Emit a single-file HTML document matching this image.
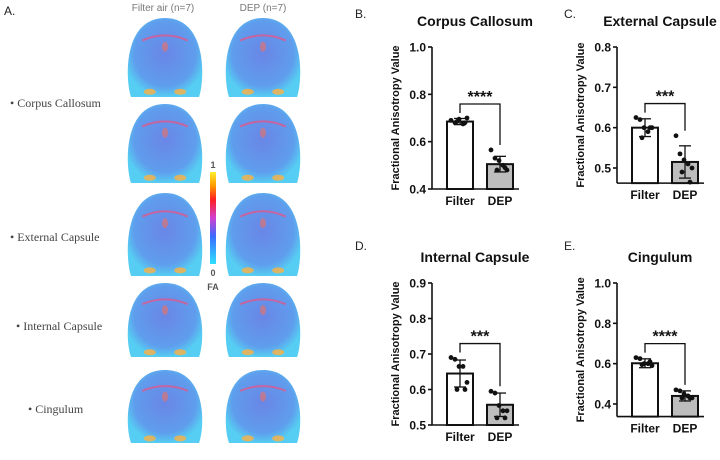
<!DOCTYPE html>
<html><head><meta charset="utf-8"><style>
body{margin:0;width:720px;height:460px;background:#fff;overflow:hidden;font-family:"Liberation Sans",sans-serif}
svg{position:absolute;left:0;top:0}
</style></head><body>
<svg width="720" height="460">
<defs>
<radialGradient id="brain" cx="50%" cy="45%" r="55%"><stop offset="0" stop-color="#6a86e6"/><stop offset="0.75" stop-color="#5f9ded"/><stop offset="1" stop-color="#56cdf2"/></radialGradient>
<linearGradient id="cbar" x1="0" y1="1" x2="0" y2="0"><stop offset="0" stop-color="#2fe0ff"/><stop offset="0.3" stop-color="#3a6cff"/><stop offset="0.5" stop-color="#d040d0"/><stop offset="0.7" stop-color="#ff2020"/><stop offset="0.85" stop-color="#ff9a00"/><stop offset="1" stop-color="#ffee30"/></linearGradient>
</defs>
<text x="4" y="15" font-size="12" fill="#222">A.</text>
<text x="163" y="11" font-size="10" fill="#777" text-anchor="middle">Filter air (n=7)</text>
<text x="263" y="11" font-size="10" fill="#777" text-anchor="middle">DEP (n=7)</text>
<g font-family="Liberation Serif,serif" font-size="12" fill="#444">
<text x="10" y="107">• Corpus Callosum</text>
<text x="10" y="241">• External Capsule</text>
<text x="16" y="330">• Internal Capsule</text>
<text x="28" y="413">• Cingulum</text>
</g>
<g id="brains"></g>
<rect x="210" y="172" width="6" height="92" fill="url(#cbar)"/>
<text x="213" y="168" font-size="9" font-weight="bold" fill="#555" text-anchor="middle">1</text>
<text x="213" y="276" font-size="9" font-weight="bold" fill="#555" text-anchor="middle">0</text>
<text x="213" y="290" font-size="9" font-weight="bold" fill="#555" text-anchor="middle">FA</text>
<text x="355" y="18" font-size="12" fill="#222">B.</text>
<text x="564" y="18" font-size="12" fill="#222">C.</text>
<text x="355" y="250" font-size="12" fill="#222">D.</text>
<text x="564" y="250" font-size="12" fill="#222">E.</text>
<g id="charts"></g>
</svg>
<script>
const NS='http://www.w3.org/2000/svg';
function mk(p,t,a){const e=document.createElementNS(NS,t);for(const k in a)e.setAttribute(k,a[k]);p.appendChild(e);return e;}
const bg=document.getElementById('brains');
const brainRows=[[18,100],[104,186],[193,279],[283,360],[370,446]];
const brainCols=[[127,203],[225,301]];
brainRows.forEach((r,ri)=>brainCols.forEach((c,ci)=>{
  const g=mk(bg,'g',{});
  
  
  const cx=(c[0]+c[1])/2,cy=(r[0]+r[1])/2,rx=(c[1]-c[0])/2,ry=(r[1]-r[0])/2;
  mk(g,'path',{d:`M${cx} ${r[0]} C${c[1]+4} ${r[0]} ${c[1]+2} ${cy+ry*0.5} ${c[1]-4} ${r[1]-3} L${c[0]+4} ${r[1]-3} C${c[0]-2} ${cy+ry*0.5} ${c[0]-4} ${r[0]} ${cx} ${r[0]} Z`,fill:'url(#brain)'});
  mk(g,'path',{d:`M${cx-rx*0.6} ${cy-ry*0.45} Q${cx} ${cy-ry*0.7} ${cx+rx*0.6} ${cy-ry*0.45}`,stroke:'#f05080',fill:'none','stroke-width':2,opacity:0.7});
  mk(g,'ellipse',{cx:cx,cy:cy-ry*0.3,rx:3,ry:5,fill:'#f07060',opacity:0.6});
  mk(g,'ellipse',{cx:cx-rx*0.4,cy:cy+ry*0.8,rx:6,ry:3,fill:'#ffb040',opacity:0.8});
  mk(g,'ellipse',{cx:cx+rx*0.4,cy:cy+ry*0.8,rx:6,ry:3,fill:'#ffb040',opacity:0.8});
}));
const groups=['Filter','DEP'];
const titles=['Corpus Callosum','External Capsule','Internal Capsule','Cingulum'];
const stars=['****','***','***','****'];
const means=[[0.685,0.505],[0.600,0.515],[0.645,0.557],[0.602,0.440]];
const sds=[[0.013,0.033],[0.022,0.040],[0.038,0.033],[0.022,0.025]];
const ptsFilter=[[0.69,0.68,0.695,0.675,0.70,0.685,0.68],[0.625,0.62,0.60,0.59,0.60,0.575,0.60],[0.69,0.685,0.665,0.665,0.62,0.60,0.60],[0.63,0.625,0.60,0.60,0.59,0.595,0.61]];
const ptsDep=[[0.565,0.53,0.52,0.50,0.48,0.48,0.49],[0.58,0.535,0.52,0.51,0.50,0.49,0.465],[0.595,0.59,0.555,0.54,0.54,0.52,0.52],[0.47,0.465,0.45,0.44,0.43,0.43,0.43]];
const ticks=[[0.4,0.6,0.8,1.0],[0.5,0.6,0.7,0.8],[0.5,0.6,0.7,0.8,0.9],[0.4,0.6,0.8,1.0]];
const yMin=[0.4,0.5,0.5,0.4],yMax=[1.0,0.8,0.9,1.0];
const yBottomVal=[0.4,0.4625,0.5,0.3375];
const pos=[[432,47,189],[617,47,168],[432,283,425],[617,283,404]];
const jit=[-9,-5,-1,3,7,-3,5];
const cg=document.getElementById('charts');
titles.forEach((t,i)=>{
  const [ax,yt,yb]=pos[i];
  const y=v=>yb-(v-yMin[i])/(yMax[i]-yMin[i])*(yb-yt);
  const base=y(yBottomVal[i]);
  const g=mk(cg,'g',{});
  
  
  const tt=mk(g,'text',{x:ax+43,y:yt-21,'font-size':14,'font-weight':'bold','text-anchor':'middle',fill:'#111'});tt.textContent=t;
  
  const yl=mk(g,'text',{x:0,y:0,'font-size':11,'font-weight':'bold','text-anchor':'middle',fill:'#111',transform:`translate(${ax-33},${(yt+base)/2}) rotate(-90)`});yl.textContent='Fractional Anisotropy Value';
  
  mk(g,'line',{x1:ax,y1:yt,x2:ax,y2:base,stroke:'#111','stroke-width':1.6});
  mk(g,'line',{x1:ax,y1:base,x2:ax+87,y2:base,stroke:'#111','stroke-width':1.6});
  ticks[i].forEach(v=>{
    mk(g,'line',{x1:ax-4,y1:y(v),x2:ax,y2:y(v),stroke:'#111','stroke-width':1.6});
    const tl=mk(g,'text',{x:ax-6,y:y(v)+4.5,'font-size':12,'font-weight':'bold','text-anchor':'end',fill:'#111'});tl.textContent=v.toFixed(1);
    
  });
  const cx=[ax+28,ax+68];
  groups.forEach((gname,j)=>{
    const b=mk(g,'rect',{x:cx[j]-13,y:y(means[i][j]),width:26,height:base-y(means[i][j]),fill:j?'#bdbdbd':'#fff',stroke:'#111','stroke-width':2});
    
    const hi=y(means[i][j]+sds[i][j]),lo=y(means[i][j]-sds[i][j]);
    mk(g,'line',{x1:cx[j],y1:hi,x2:cx[j],y2:lo,stroke:'#111','stroke-width':1.3});
    mk(g,'line',{x1:cx[j]-6,y1:hi,x2:cx[j]+6,y2:hi,stroke:'#111','stroke-width':1.3});
    mk(g,'line',{x1:cx[j]-6,y1:lo,x2:cx[j]+6,y2:lo,stroke:'#111','stroke-width':1.3});
    const pts=j?ptsDep[i]:ptsFilter[i];
    pts.forEach((v,k)=>{
      const d=mk(g,'circle',{cx:cx[j]+jit[k],cy:y(v),r:2.4,fill:'#111'});
      
    });
    const xl=mk(g,'text',{x:cx[j],y:base+16,'font-size':12,'font-weight':'bold','text-anchor':'middle',fill:'#111'});xl.textContent=gname;
    
  });
  const top=Math.max(...ptsFilter[i],means[i][0]+sds[i][0]);
  const by=y(top)-14;
  mk(g,'path',{d:`M${cx[0]} ${y(top)-5} V${by} H${cx[1]} V${y(Math.max(...ptsDep[i]))-5}`,fill:'none',stroke:'#111','stroke-width':1.3});
  const st=mk(g,'text',{x:(cx[0]+cx[1])/2,y:by-2,'font-size':16,'font-weight':'bold','text-anchor':'middle',fill:'#111'});st.textContent=stars[i];
  
});
</script>
</body></html>
